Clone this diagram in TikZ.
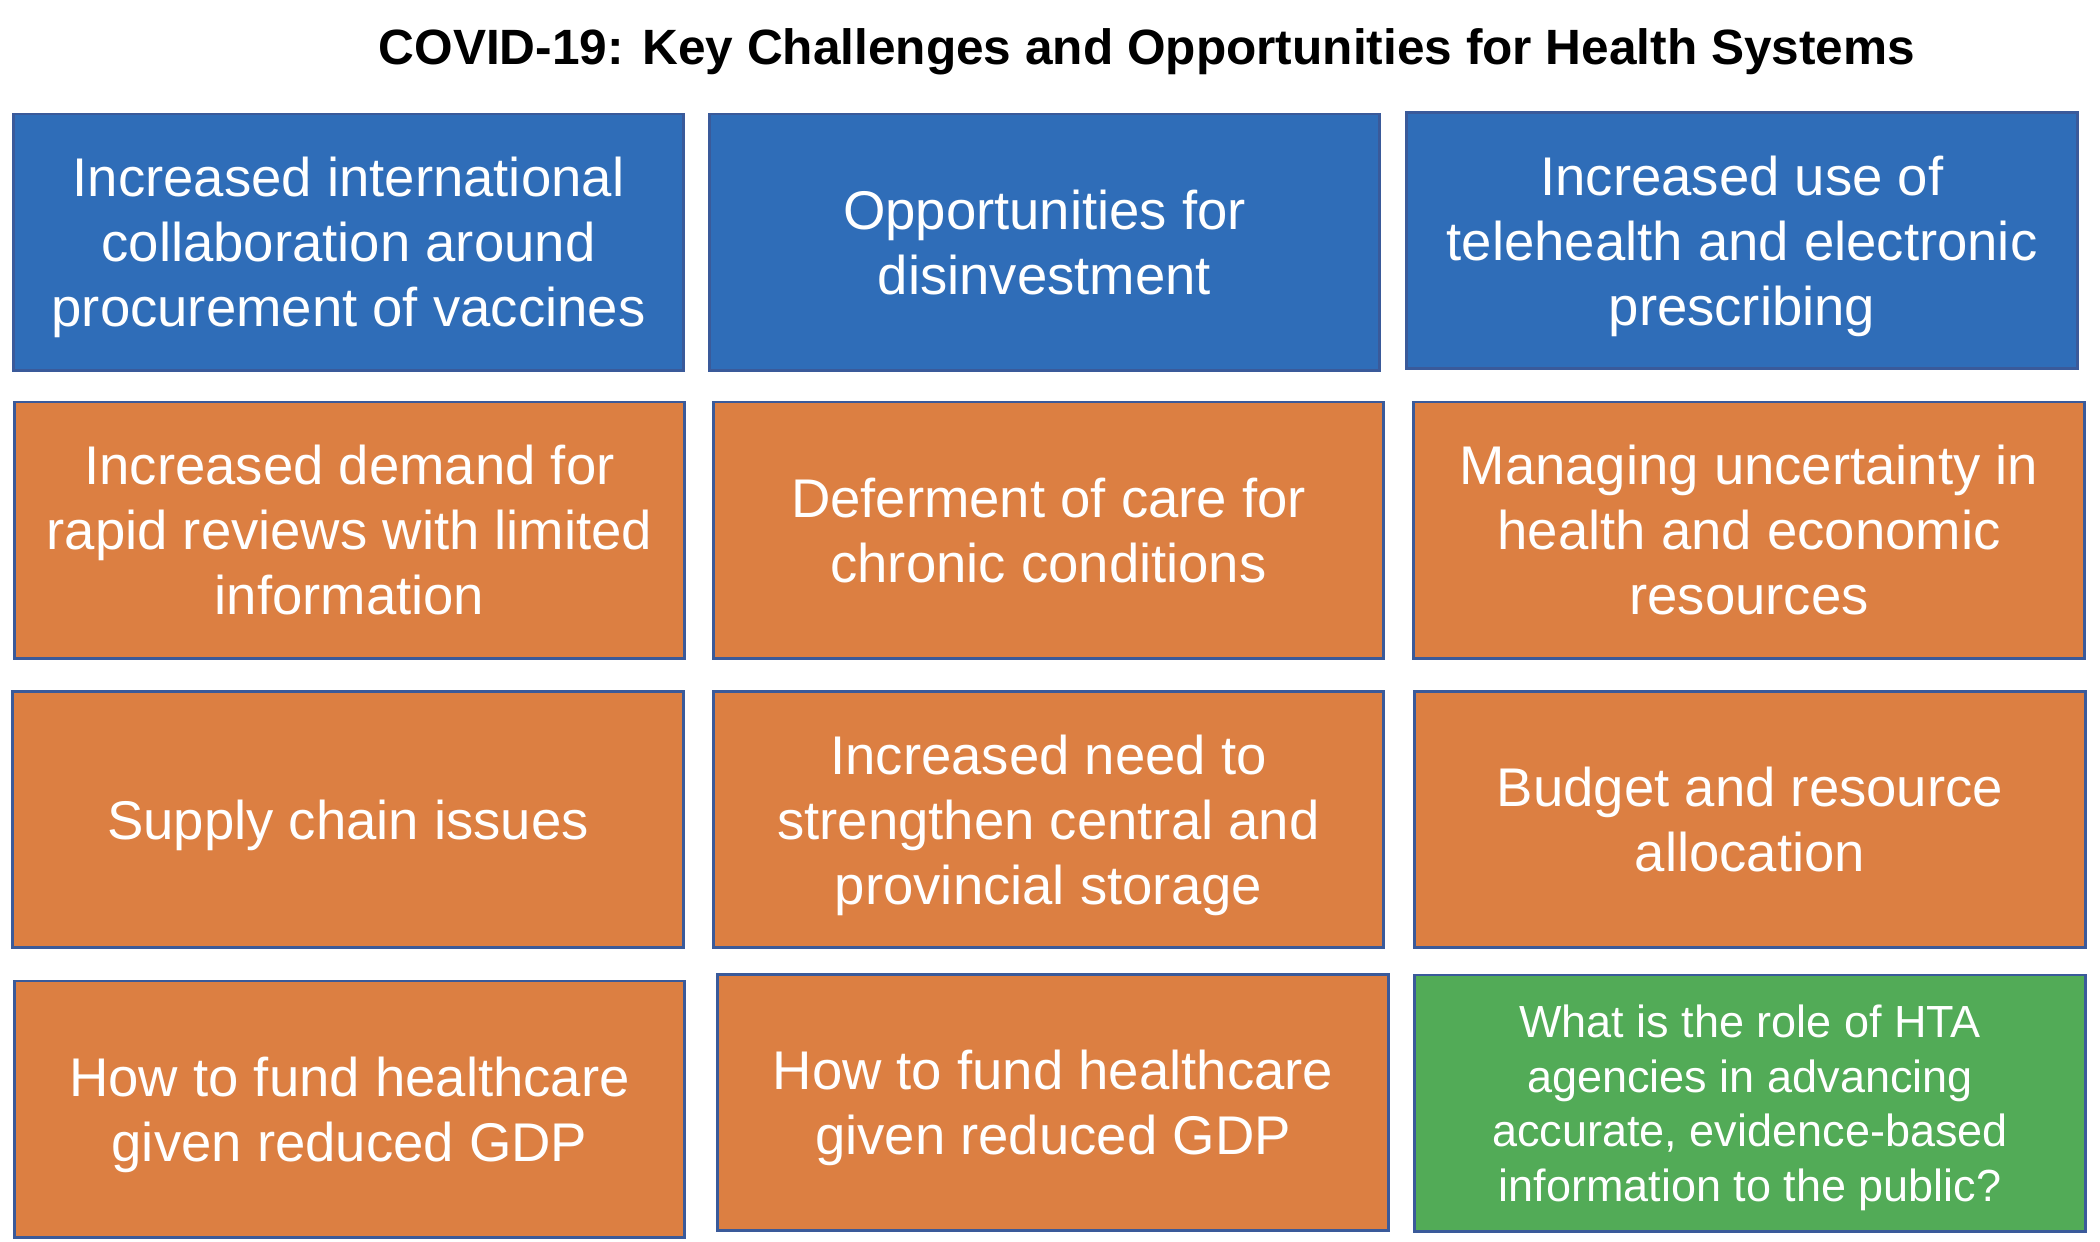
\documentclass[tikz,border=0pt]{standalone}
\usepackage{fontspec}
\setmainfont{Liberation Sans}
\usetikzlibrary{positioning}
\definecolor{oppblue}{HTML}{2F6DB8}
\definecolor{chalorange}{HTML}{DC7F42}
\definecolor{htagreen}{HTML}{52AB57}
\definecolor{edgeblue}{HTML}{3A5A9A}
\tikzset{
  cell/.style={draw=edgeblue, line width=0.8pt, text=white, align=center,
    minimum width=6.7cm, minimum height=2.56cm, inner sep=0pt, text depth=0pt,
    font=\fontsize{15.5}{18.5}\selectfont},
  opp/.style={cell, fill=oppblue},
  chal/.style={cell, fill=chalorange},
  hta/.style={cell, fill=htagreen, font=\fontsize{12.8}{15.5}\selectfont}
}
\begin{document}
\begin{tikzpicture}[x=0.01cm, y=-0.01cm]
  \useasboundingbox (0,0) rectangle (2100,1241);
  \node [font=\fontsize{14.1}{16}\selectfont\bfseries] (title) at (1147,52)
    {COVID-19: Key Challenges and Opportunities for Health Systems};
  % first row: opportunities
  \node [opp] (collab) at (348.5,242) {Increased international\\collaboration around\\procurement of vaccines};
  \node [opp] (disinvest) at (1044.5,242) {Opportunities for\\disinvestment};
  \node [opp] (telehealth) at (1742,240.5) {Increased use of\\telehealth and electronic\\prescribing};
  % second row
  \node [chal] (rapid) at (349.5,530) {Increased demand for\\rapid reviews with limited\\information};
  \node [chal] (deferment) at (1048.5,530) {Deferment of care for\\chronic conditions};
  \node [chal] (uncertainty) at (1749,530) {Managing uncertainty in\\health and economic\\resources};
  % third row
  \node [chal] (supply) at (348,819.5) {Supply chain issues};
  \node [chal] (storage) at (1048.5,819.5) {Increased need to\\strengthen central and\\provincial storage};
  \node [chal] (budget) at (1750,819.5) {Budget and resource\\allocation};
  % fourth row
  \node [chal] (fundA) at (349.5,1109) {How to fund healthcare\\given reduced GDP};
  \node [chal] (fundB) at (1053,1102.5) {How to fund healthcare\\given reduced GDP};
  \node [hta] (htarole) at (1750,1103) {What is the role of HTA\\agencies in advancing\\accurate, evidence-based\\information to the public?};
\end{tikzpicture}
\end{document}
